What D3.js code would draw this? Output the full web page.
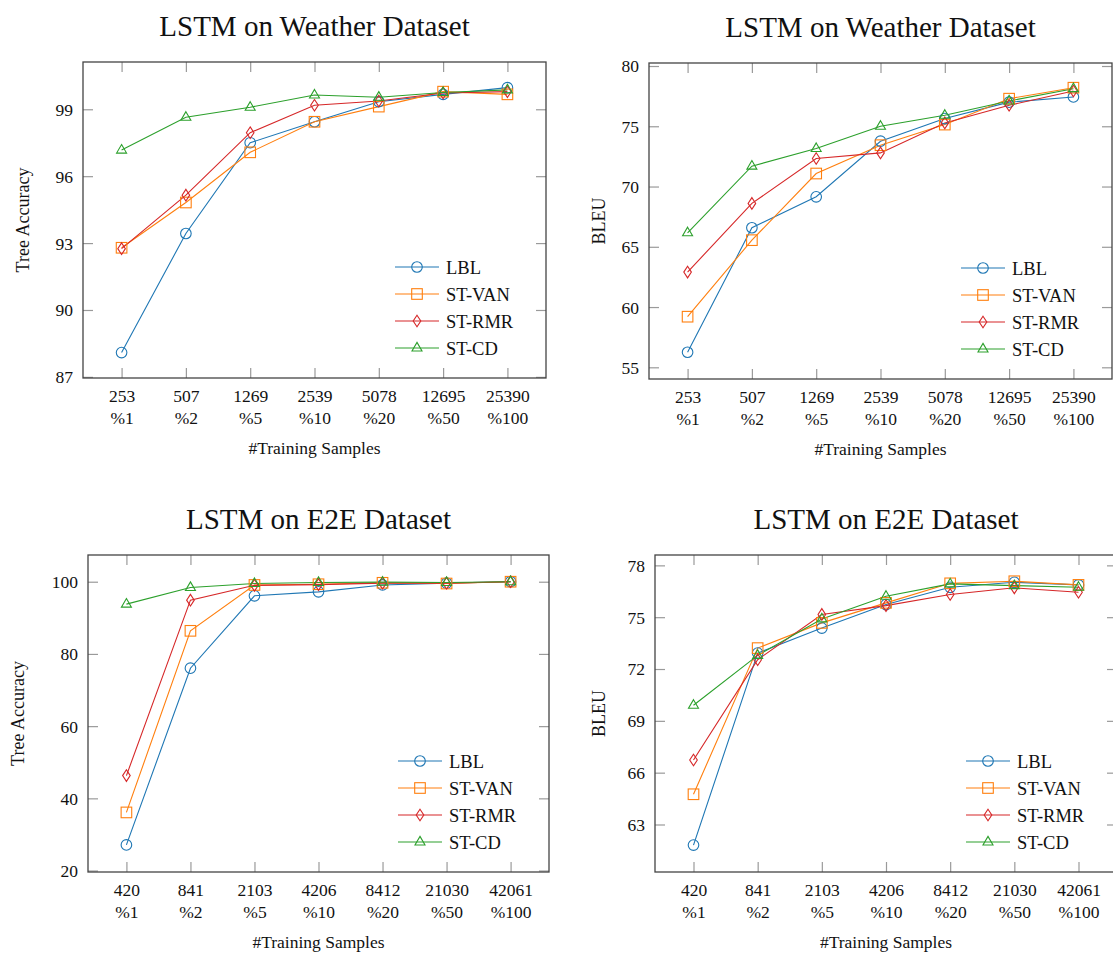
<!DOCTYPE html>
<html>
<head>
<meta charset="utf-8">
<script src="https://cdn.jsdelivr.net/npm/d3@7/dist/d3.min.js"></script>
<style>
  html, body { margin: 0; padding: 0; background: #fff; }
  svg { display: block; font-family: "Liberation Serif", "DejaVu Serif", serif; }
</style>
</head>
<body>
<svg id="chart" width="1113" height="954"></svg>
<script>
// ---------------- data ----------------
const seriesNames = ["LBL", "ST-VAN", "ST-RMR", "ST-CD"];
const seriesColors = ["#1f77b4", "#ff7f0e", "#d62728", "#2ca02c"];
const seriesMarkers = ["circle", "square", "diamond", "triangle"];

const weatherSamples = ["253", "507", "1269", "2539", "5078", "12695", "25390"];
const e2eSamples = ["420", "841", "2103", "4206", "8412", "21030", "42061"];
const percentLabels = ["%1", "%2", "%5", "%10", "%20", "%50", "%100"];

const weatherTreeLBL = [88.09, 93.43, 97.50, 98.44, 99.34, 99.67, 99.97];
const weatherTreeVAN = [92.79, 94.82, 97.07, 98.44, 99.12, 99.79, 99.67];
const weatherTreeRMR = [92.75, 95.15, 97.95, 99.18, 99.37, 99.73, 99.79];
const weatherTreeCD  = [97.17, 98.64, 99.09, 99.64, 99.54, 99.75, 99.87];

const weatherBleuLBL = [56.25, 66.58, 69.15, 73.76, 75.64, 77.00, 77.43];
const weatherBleuVAN = [59.20, 65.55, 71.08, 73.43, 75.14, 77.29, 78.20];
const weatherBleuRMR = [62.90, 68.60, 72.32, 72.79, 75.28, 76.74, 77.93];
const weatherBleuCD  = [66.16, 71.69, 73.15, 75.00, 75.91, 77.10, 78.12];

const e2eTreeLBL = [27.1, 76.05, 96.1, 97.2, 99.1, 99.6, 100.0];
const e2eTreeVAN = [36.1, 86.4, 99.1, 99.3, 99.7, 99.5, 100.0];
const e2eTreeRMR = [46.3, 94.9, 99.0, 99.2, 99.6, 99.6, 100.0];
const e2eTreeCD  = [93.8, 98.4, 99.5, 99.8, 99.9, 99.8, 100.0];

const e2eBleuLBL = [61.81, 72.92, 74.37, 75.73, 76.73, 77.02, 76.87];
const e2eBleuVAN = [64.75, 73.21, 74.67, 75.83, 76.96, 77.08, 76.87];
const e2eBleuRMR = [66.73, 72.54, 75.16, 75.67, 76.31, 76.70, 76.44];
const e2eBleuCD  = [69.90, 72.79, 74.90, 76.21, 76.93, 76.83, 76.73];

const weatherTreeTicks = [87, 90, 93, 96, 99];
const weatherBleuTicks = [55, 60, 65, 70, 75, 80];
const e2eTreeTicks = [20, 40, 60, 80, 100];
const e2eBleuTicks = [63, 66, 69, 72, 75, 78];

const weatherTreeDomain = [86.95, 101.12];
const weatherBleuDomain = [54.03, 80.25];
const e2eTreeDomain = [19.6, 107.4];
const e2eBleuDomain = [60.25, 78.6];

const titles = ["LSTM on Weather Dataset", "LSTM on Weather Dataset", "LSTM on E2E Dataset", "LSTM on E2E Dataset"];
const yLabels = ["Tree Accuracy", "BLEU", "Tree Accuracy", "BLEU"];
const xLabel = "#Training Samples";

// ---------------- layout ----------------
const panels = [
  { box: [83, 62, 546, 378],  samples: weatherSamples, values: [weatherTreeLBL, weatherTreeVAN, weatherTreeRMR, weatherTreeCD], ticks: weatherTreeTicks, domain: weatherTreeDomain, yLabelOff: 54 },
  { box: [649, 63, 1112, 379], samples: weatherSamples, values: [weatherBleuLBL, weatherBleuVAN, weatherBleuRMR, weatherBleuCD], ticks: weatherBleuTicks, domain: weatherBleuDomain, yLabelOff: 44 },
  { box: [88, 555, 549, 872],  samples: e2eSamples, values: [e2eTreeLBL, e2eTreeVAN, e2eTreeRMR, e2eTreeCD], ticks: e2eTreeTicks, domain: e2eTreeDomain, yLabelOff: 64 },
  { box: [655, 555, 1117, 872], samples: e2eSamples, values: [e2eBleuLBL, e2eBleuVAN, e2eBleuRMR, e2eBleuCD], ticks: e2eBleuTicks, domain: e2eBleuDomain, yLabelOff: 50 }
];

const svg = d3.select("#chart");
svg.append("rect").attr("width", 1113).attr("height", 954).attr("fill", "#fff");

const tickColor = "#9a9a9a";

function drawMarker(g, type, cx, cy, color) {
  if (type === "circle") {
    g.append("circle").attr("cx", cx).attr("cy", cy).attr("r", 5.3)
      .attr("fill", "none").attr("stroke", color).attr("stroke-width", 1.1);
  } else if (type === "square") {
    g.append("rect").attr("x", cx - 5.3).attr("y", cy - 5.3).attr("width", 10.6).attr("height", 10.6)
      .attr("fill", "none").attr("stroke", color).attr("stroke-width", 1.1);
  } else if (type === "diamond") {
    g.append("path").attr("d", `M${cx},${cy - 5.8}L${cx + 3.8},${cy}L${cx},${cy + 5.8}L${cx - 3.8},${cy}Z`)
      .attr("fill", "none").attr("stroke", color).attr("stroke-width", 1.1);
  } else {
    g.append("path").attr("d", `M${cx},${cy - 5.6}L${cx + 5},${cy + 3}L${cx - 5},${cy + 3}Z`)
      .attr("fill", "none").attr("stroke", color).attr("stroke-width", 1.1);
  }
}

panels.forEach((p, pi) => {
  const [L, T, R, B] = p.box;
  const idx = d3.range(p.samples.length);
  const x = d3.scalePoint().domain(idx).range([L, R]).padding(0.6);
  const y = d3.scaleLinear().domain(p.domain).range([B, T]);
  const g = svg.append("g");

  // ticks: left (with labels), right, bottom (with labels), top
  const left = g.append("g").attr("transform", `translate(${L},0)`)
    .call(d3.axisLeft(y).tickValues(p.ticks).tickSizeInner(-10).tickSizeOuter(0).tickPadding(10).tickFormat(d3.format("d")));
  const right = g.append("g").attr("transform", `translate(${R},0)`)
    .call(d3.axisRight(y).tickValues(p.ticks).tickSizeInner(-10).tickSizeOuter(0).tickFormat(""));
  const bottom = g.append("g").attr("transform", `translate(0,${B})`)
    .call(d3.axisBottom(x).tickSizeInner(-10).tickSizeOuter(0).tickPadding(0).tickFormat(""));
  const top = g.append("g").attr("transform", `translate(0,${T})`)
    .call(d3.axisTop(x).tickSizeInner(-10).tickSizeOuter(0).tickFormat(""));
  [left, right, bottom, top].forEach(a => {
    a.select(".domain").remove();
    a.selectAll(".tick line").attr("stroke", tickColor).attr("stroke-width", 1.2);
  });
  left.selectAll(".tick text").attr("font-size", 17.5).attr("fill", "#111")
    .attr("font-family", "Liberation Serif, serif").attr("dy", "0.34em");

  // two-line x tick labels
  bottom.selectAll(".tick").each(function (d) {
    const t = d3.select(this).append("text").attr("text-anchor", "middle").attr("fill", "#111")
      .attr("font-size", 17.5).attr("font-family", "Liberation Serif, serif");
    t.append("tspan").attr("x", 0).attr("y", 24).text(p.samples[d]);
    t.append("tspan").attr("x", 0).attr("y", 45.5).text(percentLabels[d]);
  });

  // frame
  g.append("rect").attr("x", L).attr("y", T).attr("width", R - L).attr("height", B - T)
    .attr("fill", "none").attr("stroke", "#444").attr("stroke-width", 1.3);

  // series
  p.values.forEach((vals, si) => {
    const line = d3.line().x((d, i) => x(i)).y(d => y(d));
    g.append("path").datum(vals).attr("d", line).attr("fill", "none")
      .attr("stroke", seriesColors[si]).attr("stroke-width", 1.1);
  });
  p.values.forEach((vals, si) => {
    vals.forEach((v, i) => drawMarker(g, seriesMarkers[si], x(i), y(v), seriesColors[si]));
  });

  // legend
  const rowOff = [111, 84, 57, 30];
  seriesNames.forEach((name, si) => {
    const ry = B - rowOff[si];
    g.append("line").attr("x1", R - 151).attr("x2", R - 107).attr("y1", ry).attr("y2", ry)
      .attr("stroke", seriesColors[si]).attr("stroke-width", 1.1);
    drawMarker(g, seriesMarkers[si], R - 129, ry, seriesColors[si]);
    g.append("text").attr("x", R - 100).attr("y", ry + 6.5).attr("font-size", 18.5).attr("fill", "#111")
      .text(name);
  });

  // title
  g.append("text").attr("x", (L + R) / 2).attr("y", T - 26.5).attr("text-anchor", "middle")
    .attr("font-size", 29).attr("fill", "#111").text(titles[pi]);

  // x label
  g.append("text").attr("x", (L + R) / 2).attr("y", B + 76).attr("text-anchor", "middle")
    .attr("font-size", 17.5).attr("fill", "#111").text(xLabel);

  // y label
  g.append("text").attr("transform", `translate(${L - p.yLabelOff},${(T + B) / 2}) rotate(-90)`)
    .attr("text-anchor", "middle").attr("font-size", 18).attr("fill", "#111").text(yLabels[pi]);
});
</script>
</body>
</html>
